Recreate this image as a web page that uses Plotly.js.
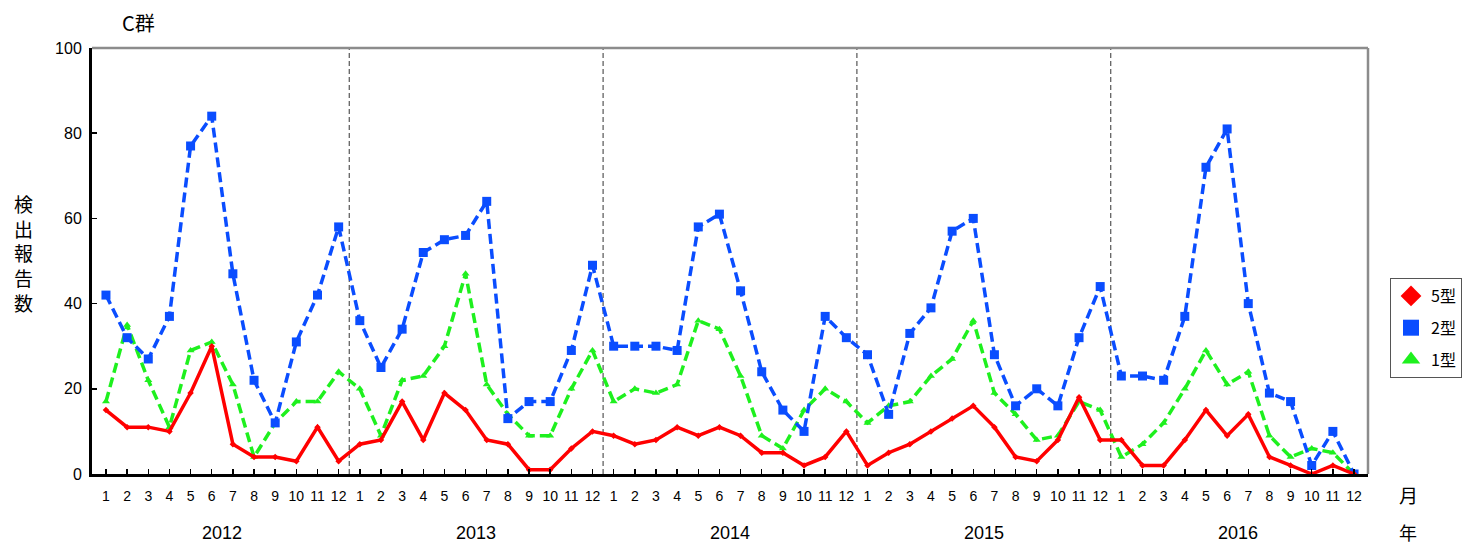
<!DOCTYPE html>
<html>
<head>
<meta charset="utf-8">
<script src="https://cdn.plot.ly/plotly-3.0.1.min.js"></script>
<style>html,body{margin:0;padding:0;background:#fff;}#chart{width:1468px;height:546px;}</style>
</head>
<body>
<div id="chart"></div>
<script>
var years = ['2012', '2013', '2014', '2015', '2016'];
var months = ['1','2','3','4','5','6','7','8','9','10','11','12'];

var type5 = [
  15, 11, 11, 10, 19, 30, 7, 4, 4, 3, 11, 3,
  7, 8, 17, 8, 19, 15, 8, 7, 1, 1, 6, 10,
  9, 7, 8, 11, 9, 11, 9, 5, 5, 2, 4, 10,
  2, 5, 7, 10, 13, 16, 11, 4, 3, 8, 18, 8,
  8, 2, 2, 8, 15, 9, 14, 4, 2, 0, 2, 0
];
var type2 = [
  42, 32, 27, 37, 77, 84, 47, 22, 12, 31, 42, 58,
  36, 25, 34, 52, 55, 56, 64, 13, 17, 17, 29, 49,
  30, 30, 30, 29, 58, 61, 43, 24, 15, 10, 37, 32,
  28, 14, 33, 39, 57, 60, 28, 16, 20, 16, 32, 44,
  23, 23, 22, 37, 72, 81, 40, 19, 17, 2, 10, 0
];
var type1 = [
  17, 35, 22, 11, 29, 31, 21, 4, 12, 17, 17, 24,
  20, 9, 22, 23, 30, 47, 21, 14, 9, 9, 20, 29,
  17, 20, 19, 21, 36, 34, 23, 9, 6, 15, 20, 17,
  12, 16, 17, 23, 27, 36, 19, 14, 8, 9, 17, 15,
  4, 7, 12, 20, 29, 21, 24, 9, 4, 6, 5, 0
];

var xIdx = [], tickText = [];
years.forEach(function (y, yi) {
  months.forEach(function (m, mi) {
    xIdx.push(yi * 12 + mi);
    tickText.push(m);
  });
});

var RED = '#ff0000', BLUE = '#0a4dff', GREEN = '#1ef01e';

var traces = [
  {x: xIdx, y: type1, mode: 'lines+markers', showlegend: false,
   line: {color: GREEN, width: 3.5, dash: '10px,5px'},
   marker: {symbol: 'triangle-up', size: 7, color: GREEN}},
  {x: xIdx, y: type2, mode: 'lines+markers', showlegend: false,
   line: {color: BLUE, width: 3.5, dash: '10px,5px'},
   marker: {symbol: 'square', size: 9, color: BLUE}},
  {x: xIdx, y: type5, mode: 'lines+markers', showlegend: false,
   line: {color: RED, width: 3.5},
   marker: {symbol: 'diamond', size: 5, color: RED}},
  {x: [null], y: [null], mode: 'markers', name: '5型', legendgroup: 'a',
   marker: {symbol: 'diamond', size: 16, color: RED}},
  {x: [null], y: [null], mode: 'markers', name: '2型', legendgroup: 'b',
   marker: {symbol: 'square', size: 16, color: BLUE}},
  {x: [null], y: [null], mode: 'markers', name: '1型', legendgroup: 'c',
   marker: {symbol: 'triangle-up', size: 16, color: GREEN}}
];

var shapes = [];
for (var k = 1; k < years.length; k++) {
  shapes.push({type: 'line', xref: 'x', yref: 'paper', x0: k * 12 - 0.5, x1: k * 12 - 0.5, y0: 0, y1: 1,
    line: {color: '#333', width: 1, dash: '5px,3px'}, layer: 'below'});
}
shapes.push({type: 'line', xref: 'paper', yref: 'paper', x0: 0, x1: 1, y0: 1, y1: 1, line: {color: '#8c8c8c', width: 2.5}});
shapes.push({type: 'line', xref: 'paper', yref: 'paper', x0: 1, x1: 1, y0: 0, y1: 1, line: {color: '#8c8c8c', width: 2.5}});

var CJK = '"Noto Sans CJK JP", "Liberation Sans", sans-serif';
function px2x(px) { return (px - 92) / 1276; }
function py2y(py) { return (474 - py) / 426; }
var annotations = [
  {text: 'C群', xref: 'paper', yref: 'paper', x: px2x(138), y: py2y(23), xanchor: 'center', yanchor: 'middle',
   showarrow: false, font: {family: CJK, size: 20, color: '#000'}},
  {text: '検<br>出<br>報<br>告<br>数', xref: 'paper', yref: 'paper', x: px2x(23), y: py2y(253),
   xanchor: 'center', yanchor: 'middle', showarrow: false,
   font: {family: CJK, size: 19, color: '#000'}},
  {text: '月', xref: 'paper', yref: 'paper', x: px2x(1408), y: py2y(494), xanchor: 'center', yanchor: 'middle',
   showarrow: false, font: {family: CJK, size: 19, color: '#000'}},
  {text: '年', xref: 'paper', yref: 'paper', x: px2x(1408), y: py2y(532), xanchor: 'center', yanchor: 'middle',
   showarrow: false, font: {family: CJK, size: 18, color: '#000'}}
];
years.forEach(function (y, yi) {
  annotations.push({text: y, xref: 'x', yref: 'paper', x: yi * 12 + 5.5, y: py2y(533),
    xanchor: 'center', yanchor: 'middle',
    showarrow: false, font: {family: '"Liberation Sans", Arial, sans-serif', size: 18, color: '#000'}});
});

var layout = {
  width: 1468, height: 546,
  margin: {l: 92, r: 100, t: 48, b: 72},
  paper_bgcolor: '#fff', plot_bgcolor: '#fff',
  font: {family: '"Liberation Sans", Arial, sans-serif', color: '#000'},
  xaxis: {
    range: [-0.66, 59.66], tickvals: xIdx, ticktext: tickText,
    ticks: 'inside', ticklen: 5, tickwidth: 1.5, tickcolor: '#000',
    showline: true, linecolor: '#000', linewidth: 3, showgrid: false, zeroline: false,
    tickfont: {size: 14}, ticklabelstandoff: 7, fixedrange: true
  },
  yaxis: {
    range: [0, 100], tickvals: [0, 20, 40, 60, 80, 100],
    ticks: 'inside', ticklen: 5, tickwidth: 1.5, tickcolor: '#000',
    showline: true, linecolor: '#000', linewidth: 3, showgrid: false, zeroline: false,
    tickfont: {size: 16}, ticklabelstandoff: 4, fixedrange: true
  },
  showlegend: true,
  legend: {
    xref: 'container', yref: 'container',
    x: 1390 / 1468, y: 1 - 278 / 546, xanchor: 'left', yanchor: 'top',
    bgcolor: '#fff', bordercolor: '#555', borderwidth: 1,
    font: {family: CJK, size: 16, color: '#000'},
    traceorder: 'grouped', tracegroupgap: 8
  },
  shapes: shapes,
  annotations: annotations
};

Plotly.newPlot('chart', traces, layout, {displayModeBar: false, staticPlot: true});
</script>
</body>
</html>
